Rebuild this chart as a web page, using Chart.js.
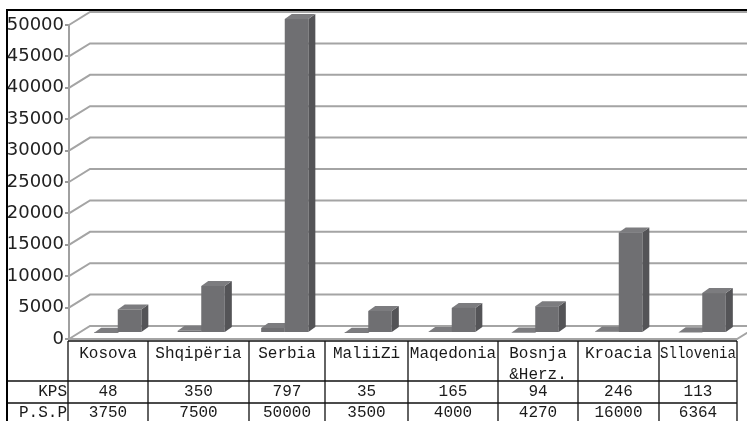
<!DOCTYPE html>
<html>
<head>
<meta charset="utf-8">
<script src="https://cdn.jsdelivr.net/npm/chart.js@4.4.1/dist/chart.umd.min.js"></script>
<style>
  html, body { margin: 0; padding: 0; background: #fff; }
  canvas { display: block; }
</style>
</head>
<body>
<canvas id="chart" width="747" height="421"></canvas>
<script>
// Shteti / KPS / P.S.P
const categories = ["Kosova", "Shqipëria", "Serbia", "MaliiZi", "Maqedonia", "Bosnja\n&Herz.", "Kroacia", "Sllovenia"];
const kps = [48, 350, 797, 35, 165, 94, 246, 113];
const psp = [3750, 7500, 50000, 3500, 4000, 4270, 16000, 6364];
const seriesNames = ["KPS", "P.S.P"];
const yMax = 50000;
const yStep = 5000;

// offsets for the fake 3d: bar plane and back wall
const BAR_DX = 7, BAR_DY = -6;
const WALL_DX = 21, WALL_DY = -13;
const FACE_DX = 7, FACE_DY = -5;

const grid3d = {
  id: "grid3d",
  beforeDatasetsDraw(chart) {
    const { ctx, chartArea: a, scales: { y } } = chart;
    ctx.save();
    ctx.strokeStyle = "#a4a4a4";
    ctx.lineWidth = 2;
    for (let v = 0; v <= yMax; v += yStep) {
      const py = y.getPixelForValue(v);
      ctx.beginPath();
      ctx.moveTo(a.left, py);
      ctx.lineTo(a.left + WALL_DX, py + WALL_DY);
      ctx.lineTo(chart.width, py + WALL_DY);
      ctx.stroke();
    }
    // floor front edge + right slant
    ctx.beginPath();
    ctx.moveTo(a.left, a.bottom);
    ctx.lineTo(a.right, a.bottom);
    ctx.lineTo(a.right + WALL_DX, a.bottom + WALL_DY);
    ctx.stroke();
    ctx.restore();

    // shift bars into their own depth plane, draw top + side faces first
    ctx.save();
    ctx.translate(BAR_DX, BAR_DY);
    chart.data.datasets.forEach((ds, i) => {
      const meta = chart.getDatasetMeta(i);
      meta.data.forEach(el => {
        const { x, y: top, base, width } = el.getProps(["x", "y", "base", "width"], true);
        const l = x - width / 2, r = x + width / 2;
        ctx.fillStyle = "#545457";
        ctx.beginPath();
        ctx.moveTo(r, top);
        ctx.lineTo(r + FACE_DX, top + FACE_DY);
        ctx.lineTo(r + FACE_DX, base + FACE_DY);
        ctx.lineTo(r, base);
        ctx.closePath();
        ctx.fill();
        ctx.fillStyle = "#7c7c7f";
        ctx.beginPath();
        ctx.moveTo(l, top);
        ctx.lineTo(l + FACE_DX, top + FACE_DY);
        ctx.lineTo(r + FACE_DX, top + FACE_DY);
        ctx.lineTo(r, top);
        ctx.closePath();
        ctx.fill();
      });
    });
  },
  afterDatasetsDraw(chart) {
    chart.ctx.restore();
  }
};

// data table under the plot + outer frame
const dataTable = {
  id: "dataTable",
  afterDraw(chart) {
    const { ctx, chartArea: a } = chart;
    const edges = [68, 148, 249, 325, 408, 498, 578, 659, 737];
    const rowTop = a.bottom + 2, row1 = 381, row2 = 403, end = chart.height;
    ctx.save();
    ctx.strokeStyle = "#111";
    ctx.lineWidth = 1.3;
    ctx.beginPath();
    ctx.moveTo(edges[0], rowTop); ctx.lineTo(edges[8], rowTop);
    ctx.moveTo(7, row1); ctx.lineTo(edges[8], row1);
    ctx.moveTo(7, row2); ctx.lineTo(edges[8], row2);
    edges.forEach(x => { ctx.moveTo(x, rowTop); ctx.lineTo(x, end); });
    ctx.stroke();

    ctx.fillStyle = "#1a1a1a";
    ctx.font = "16px 'Liberation Mono', monospace";
    ctx.textAlign = "center";
    ctx.textBaseline = "middle";
    categories.forEach((c, i) => {
      const cx = (edges[i] + edges[i + 1]) / 2;
      c.split("\n").forEach((line, k) => {
        ctx.fillText(line, cx, 354 + k * 21, edges[i + 1] - edges[i] - 2);
      });
    });
    const rows = [kps, psp];
    const ys = [392, 413];
    rows.forEach((vals, r) => {
      ctx.textAlign = "right";
      ctx.fillText(seriesNames[r], edges[0] - 1, ys[r], edges[0] - 8);
      ctx.textAlign = "center";
      vals.forEach((v, i) => ctx.fillText(String(v), (edges[i] + edges[i + 1]) / 2, ys[r]));
    });

    // outer frame: left and top
    ctx.strokeStyle = "#000";
    ctx.lineWidth = 2;
    ctx.beginPath();
    ctx.moveTo(7, end);
    ctx.lineTo(7, 10);
    ctx.lineTo(chart.width, 10);
    ctx.stroke();
    ctx.restore();
  }
};

new Chart(document.getElementById("chart"), {
  type: "bar",
  data: {
    labels: categories,
    datasets: [
      { label: seriesNames[0], data: kps, backgroundColor: "#6f6f72" },
      { label: seriesNames[1], data: psp, backgroundColor: "#6f6f72" }
    ]
  },
  options: {
    responsive: false,
    animation: false,
    layout: { padding: { top: 25, left: 7, right: 10, bottom: 82 } },
    datasets: { bar: { categoryPercentage: 0.565, barPercentage: 1.0 } },
    plugins: { legend: { display: false }, tooltip: { enabled: false } },
    scales: {
      x: { display: false },
      y: {
        min: 0,
        max: yMax,
        afterFit(scale) { scale.width = 62; },
        ticks: {
          stepSize: yStep,
          padding: 1,
          color: "#222",
          font: { family: "'DejaVu Sans'", size: 18 },
          callback: v => String(v)
        },
        grid: { drawOnChartArea: false, tickLength: 4, color: "#9a9a9a", lineWidth: 2 },
        border: { color: "#a0a0a0", width: 2 }
      }
    }
  },
  plugins: [grid3d, dataTable]
});
</script>
</body>
</html>
